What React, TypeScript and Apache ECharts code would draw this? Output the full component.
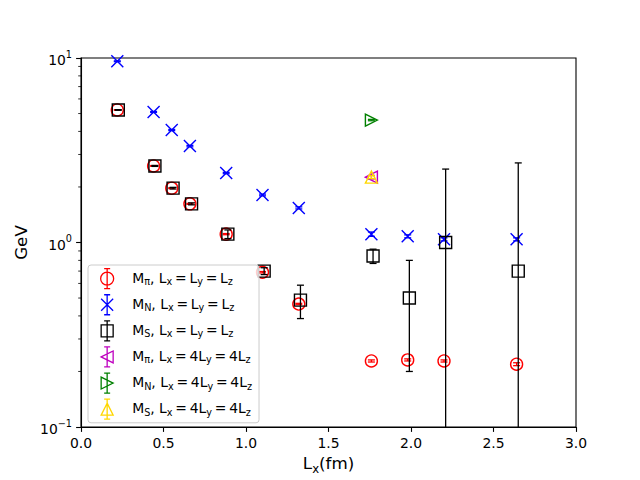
import React, { useEffect, useRef } from 'react';
import * as echarts from 'echarts';

// ---- data ----
const xL = [0.22, 0.44, 0.55, 0.66, 0.88, 1.1, 1.32, 1.76, 1.98, 2.2, 2.64];
const xS = [0.226, 0.448, 0.558, 0.67, 0.89, 1.11, 1.33, 1.77, 1.99, 2.21, 2.65];
const mPi = [5.23, 2.6, 1.97, 1.62, 1.11, 0.69, 0.464, 0.228, 0.231, 0.228, 0.219];
const mPiErr = [0.02, 0.012, 0.01, 0.01, 0.008, 0.006, 0.004, 0.003, 0.003, 0.003, 0.004];
const mN = [9.6, 5.1, 4.07, 3.33, 2.38, 1.81, 1.54, 1.11, 1.08, 1.04, 1.04];
const mNErr = [0.05, 0.03, 0.03, 0.03, 0.02, 0.02, 0.02, 0.03, 0.02, 0.02, 0.02];
const mS = [5.23, 2.6, 1.97, 1.62, 1.11, 0.7, 0.487, 0.845, 0.5, 1.0, 0.7];
const mSErr = [0.02, 0.015, 0.02, 0.02, 0.06, 0.03, 0.1, 0.075, 0.3, 1.5, 2.0];
const x4 = [1.76];
const mPi4 = [2.26];
const mPi4Err = [0.05];
const mN4 = [4.61];
const mN4Err = [0.04];
const mS4 = [2.26];
const mS4Err = [0.04];

const names = [
  'M_π, L_x = L_y = L_z',
  'M_N, L_x = L_y = L_z',
  'M_S, L_x = L_y = L_z',
  'M_π, L_x = 4L_y = 4L_z',
  'M_N, L_x = 4L_y = 4L_z',
  'M_S, L_x = 4L_y = 4L_z',
];

const xTicks = [0, 0.5, 1.0, 1.5, 2.0, 2.5, 3.0];
const yMinorTicks = [0.2, 0.3, 0.4, 0.5, 0.6, 0.7, 0.8, 0.9, 2, 3, 4, 5, 6, 7, 8, 9];

const YMIN = 0.1;
const YMAX = 10;
const FONT = 'DejaVu Sans';

function toRich(s: string, n: string, sub: string, lead = ''): string {
  let out = lead;
  let buf = '';
  for (let i = 0; i < s.length; i++) {
    if (s[i] === '_' && i + 1 < s.length) {
      if (buf) out += `{${n}|${buf}}`;
      buf = '';
      out += `{${sub}|${s[i + 1]}}`;
      i++;
    } else {
      buf += s[i];
    }
  }
  if (buf) out += `{${n}|${buf}}`;
  return out;
}

const BAR = 'M7,0L7,20M4,0L10,0M4,20L10,20';
const ICONS = [
  'path://M13.5,10A6.5,6.5,0,1,1,0.5,10A6.5,6.5,0,1,1,13.5,10Z' + BAR,
  'path://M1,4L13,16M13,4L1,16' + BAR,
  'path://M1,4L13,4L13,16L1,16Z' + BAR,
  'path://M1,10L13,4L13,16Z' + BAR,
  'path://M13,10L1,4L1,16Z' + BAR,
  'path://M7,4L13,16L1,16Z' + BAR,
];

const SYMBOLS = [
  'circle',
  'path://M0,0L10,10M10,0L0,10',
  'rect',
  'path://M0,6L12,0L12,12Z',
  'path://M12,6L0,0L0,12Z',
  'path://M6,0L12,12L0,12Z',
];
const SIZES = [12, 12, 12, 12, 12, 12];
const COLORS = ['#ff0000', '#0000ff', '#000000', '#bf00bf', '#008000', '#ffd700'];

function errData(xs: number[], ys: number[], es: number[]) {
  return xs.map((x, i) => {
    const lo = ys[i] - es[i];
    const hi = ys[i] + es[i];
    return [x, Math.max(lo, YMIN), Math.min(hi, YMAX), lo < YMIN ? 1 : 0];
  });
}

export default function App() {
  const ref = useRef<HTMLDivElement>(null);
  useEffect(() => {
    if (!ref.current) return;
    const chart = echarts.init(ref.current, undefined, { renderer: 'svg' });

    const groups = [
      { xs: xL, ys: mPi, es: mPiErr },
      { xs: xL, ys: mN, es: mNErr },
      { xs: xS, ys: mS, es: mSErr },
      { xs: x4, ys: mPi4, es: mPi4Err },
      { xs: x4, ys: mN4, es: mN4Err },
      { xs: x4, ys: mS4, es: mS4Err },
    ];

    const series: any[] = [];
    groups.forEach((g, k) => {
      const color = COLORS[k];
      const lw = 1.3;
      series.push({
        type: 'custom',
        name: names[k] + ' err',
        z: 2 + 2 * k,
        silent: true,
        encode: { x: 0, y: [1, 2] },
        data: errData(g.xs, g.ys, g.es),
        renderItem: (params: any, api: any) => {
          const x = api.value(0);
          const lo = api.value(1);
          const hi = api.value(2);
          const noLowCap = api.value(3) === 1;
          const pt = api.coord([x, hi]);
          const pb = api.coord([x, lo]);
          const w = 3.5;
          const st = { stroke: color, lineWidth: lw };
          const children: any[] = [
            { type: 'line', shape: { x1: pt[0], y1: pt[1], x2: pb[0], y2: pb[1] }, style: st },
            { type: 'line', shape: { x1: pt[0] - w, y1: pt[1], x2: pt[0] + w, y2: pt[1] }, style: st },
          ];
          if (!noLowCap) {
            children.push({ type: 'line', shape: { x1: pb[0] - w, y1: pb[1], x2: pb[0] + w, y2: pb[1] }, style: st });
          }
          return { type: 'group', children };
        },
      });
      series.push({
        type: 'scatter',
        name: names[k],
        z: 3 + 2 * k,
        symbol: SYMBOLS[k],
        symbolSize: SIZES[k],
        data: g.xs.map((x, i) => [x, g.ys[i]]),
        itemStyle: { color: 'rgba(0,0,0,0)', borderColor: color, borderWidth: 1.4, opacity: 1 },
        emphasis: { disabled: true },
      });
    });

    // minor ticks on the log axis
    series.push({
      type: 'custom',
      name: 'minor',
      silent: true,
      z: 1,
      encode: { x: 0, y: 1 },
      data: yMinorTicks.map((v) => [0, v]),
      renderItem: (params: any, api: any) => {
        const p = api.coord([0, api.value(1)]);
        return {
          type: 'line',
          shape: { x1: p[0] - 2.8, y1: p[1], x2: p[0], y2: p[1] },
          style: { stroke: '#000', lineWidth: 0.8 },
        };
      },
    });

    const legendRich = {
      g: { width: 13, fontSize: 13.9, lineHeight: 16 },
      n: { fontSize: 13.9, fontFamily: FONT, color: '#000', lineHeight: 16, verticalAlign: 'top' },
      s: { fontSize: 9.7, fontFamily: FONT, color: '#000', lineHeight: 8, verticalAlign: 'bottom' },
    };

    const option: any = {
      animation: false,
      backgroundColor: '#fff',
      textStyle: { fontFamily: FONT },
      grid: {
        left: 81,
        right: 64,
        top: 58,
        bottom: 53,
        show: true,
        borderColor: '#000',
        borderWidth: 1.1,
        backgroundColor: 'transparent',
      },
      legend: {
        orient: 'vertical',
        left: 88,
        top: 265,
        padding: [3, 7, 3, 12],
        itemWidth: 14,
        itemHeight: 20,
        itemGap: 4.8,
        symbolKeepAspect: true,
        backgroundColor: 'rgba(255,255,255,0.8)',
        borderColor: '#cccccc',
        borderWidth: 1,
        borderRadius: 3,
        selectedMode: false,
        data: names.map((nm, k) => ({
          name: nm,
          icon: ICONS[k],
          itemStyle: { color: 'rgba(0,0,0,0)', borderColor: COLORS[k], borderWidth: 1.3 },
        })),
        formatter: (nm: string) => toRich(nm.split(' = ').join('\u2009=\u2009'), 'n', 's', '{g| }'),
        textStyle: { rich: legendRich, fontFamily: FONT, fontSize: 13.9, color: '#000' },
        z: 20,
      },
      xAxis: {
        type: 'value',
        min: 0,
        max: 3,
        interval: 0.5,
        name: toRich('L_x(fm)', 'n', 's'),
        nameLocation: 'middle',
        nameGap: 26,
        nameTextStyle: {
          rich: {
            n: { fontSize: 16.7, fontFamily: FONT, color: '#000', lineHeight: 20, verticalAlign: 'top' },
            s: { fontSize: 11.7, fontFamily: FONT, color: '#000', lineHeight: 10, verticalAlign: 'bottom' },
          },
        },
        axisLine: { show: true, onZero: false, lineStyle: { color: '#000', width: 1.1 } },
        axisTick: { show: true, length: 4.9, lineStyle: { color: '#000', width: 1.1 } },
        axisLabel: {
          color: '#000',
          fontSize: 13.9,
          fontFamily: FONT,
          margin: 9,
          formatter: (v: number) => (xTicks.includes(v) ? v.toFixed(1) : ''),
        },
        splitLine: { show: false },
      },
      yAxis: {
        type: 'log',
        logBase: 10,
        min: YMIN,
        max: YMAX,
        name: 'GeV',
        nameLocation: 'middle',
        nameGap: 49,
        nameTextStyle: { fontSize: 16.7, fontFamily: FONT, color: '#000' },
        axisLine: { show: true, lineStyle: { color: '#000', width: 1.1 } },
        axisTick: { show: true, length: 4.9, lineStyle: { color: '#000', width: 1.1 } },
        axisLabel: {
          color: '#000',
          margin: 9,
          formatter: (v: number) => {
            const e = Math.round(Math.log10(v));
            return `{b|10}{p|${e < 0 ? '−' + -e : e}}`;
          },
          rich: {
            b: { fontSize: 13.9, fontFamily: FONT, color: '#000', lineHeight: 18, verticalAlign: 'bottom' },
            p: { fontSize: 9.7, fontFamily: FONT, color: '#000', lineHeight: 11, verticalAlign: 'top' },
          },
        },
        splitLine: { show: false },
      },
      series,
    };
    chart.setOption(option);
    return () => chart.dispose();
  }, []);
  return (
    <div
      ref={ref}
      style={{ position: 'fixed', left: 0, top: 0, width: 640, height: 480, background: '#fff' }}
    />
  );
}
